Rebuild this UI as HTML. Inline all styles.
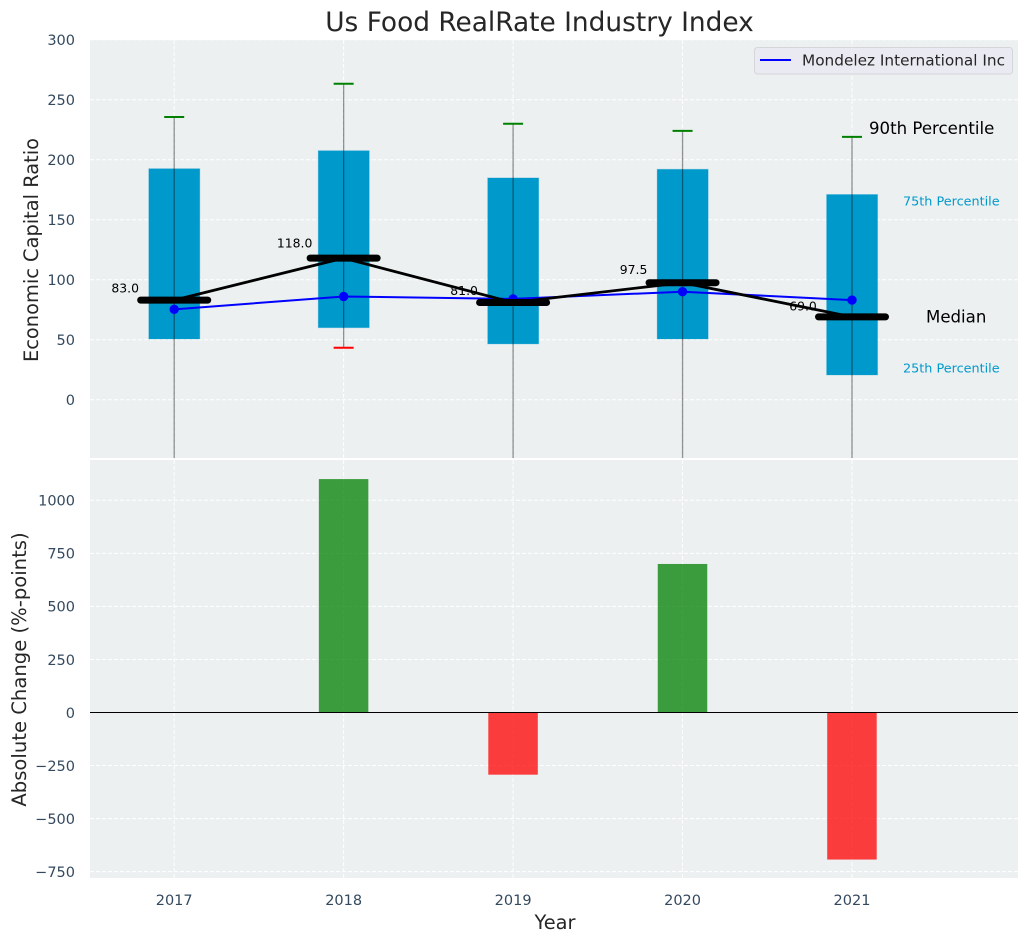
<!DOCTYPE html>
<html lang="en">
<head>
<meta charset="utf-8">
<title>Us Food RealRate Industry Index</title>
<style>
html,body{margin:0;padding:0;background:#fff;width:1029px;height:942px;overflow:hidden}
svg{display:block;font-family:"DejaVu Sans","Liberation Sans",sans-serif}
</style>
</head>
<body>
<svg id="chart" xmlns="http://www.w3.org/2000/svg" width="1029" height="942" viewBox="0 0 1029 942">
<defs>
<clipPath id="top-clip"><rect x="90" y="40" width="928" height="418"/></clipPath>
<clipPath id="bottom-clip"><rect x="90" y="460" width="928" height="418"/></clipPath>
</defs>
</svg>
<script>
const years = [2017, 2018, 2019, 2020, 2021];
const q1Values = [50.6, 60, 46.5, 50.6, 20.6];
const q3Values = [192.5, 207.5, 184.8, 192, 171];
const p90Values = [235.6, 263.3, 230, 224, 219];
const p10Values = [-60, 43.3, -60, -60, -60];
const medianValues = [83, 118, 81, 97.5, 69];
const companyValues = [75.3, 86, 84, 90, 83];
const changeValues = [0, 1100, -293, 700, -693];
const topTicks = [0, 50, 100, 150, 200, 250, 300];
const bottomTicks = [-750, -500, -250, 0, 250, 500, 750, 1000];

const NS = 'http://www.w3.org/2000/svg';
const svg = document.getElementById('chart');
const xPos = v => 174.2 + (v - 2017) * 169.45;
const yTop = v => 399.7 - v * 1.2;
const yBottom = v => 712.5 - v * 0.2122;
const fmt = v => String(v).replace('-', '\u2212');

function make(tag, attrs, parent, text) {
  const el = document.createElementNS(NS, tag);
  for (const k in attrs) el.setAttribute(k, attrs[k]);
  if (text !== undefined) el.textContent = text;
  (parent || svg).appendChild(el);
  return el;
}

let el;
el = make('rect', {x: 90, y: 40, width: 928, height: 418, fill: '#ecf0f1'});


el = make('rect', {x: 90, y: 460, width: 928, height: 418, fill: '#ecf0f1'});



const gridTop = make('g', {stroke: '#fff', 'stroke-width': 1, 'stroke-dasharray': '4 2', 'clip-path': 'url(#top-clip)'});


const gridBottom = make('g', {stroke: '#fff', 'stroke-width': 1, 'stroke-dasharray': '4 2', 'clip-path': 'url(#bottom-clip)'});



topTicks.forEach(t => {
  el = make('line', {x1: 90, x2: 1018, y1: yTop(t), y2: yTop(t)}, gridTop);
  
  
  el = make('text', {x: 75, y: yTop(t) + 5.3, 'text-anchor': 'end', 'font-size': 14.5, fill: '#34495e'}, svg, fmt(t));
  
  
});
bottomTicks.forEach(t => {
  el = make('line', {x1: 90, x2: 1018, y1: yBottom(t), y2: yBottom(t)}, gridBottom);
  
  
  el = make('text', {x: 75, y: yBottom(t) + 5.3, 'text-anchor': 'end', 'font-size': 14.5, fill: '#34495e'}, svg, fmt(t));
  
  
});
years.forEach(y => {
  el = make('line', {x1: xPos(y), x2: xPos(y), y1: 40, y2: 458}, gridTop);
  
  
  el = make('line', {x1: xPos(y), x2: xPos(y), y1: 460, y2: 878}, gridBottom);
  
  
  el = make('text', {x: xPos(y), y: 905, 'text-anchor': 'middle', 'font-size': 14.5, fill: '#34495e'}, svg, y);
  
  
});

const topG = make('g', {'clip-path': 'url(#top-clip)'});



years.forEach((y, i) => {
  const cx = xPos(y);
  el = make('rect', {x: cx - 25.4, y: yTop(q3Values[i]), width: 51, height: yTop(q1Values[i]) - yTop(q3Values[i]), fill: '#0099cc', stroke: '#0099cc', 'stroke-opacity': 0.25, 'stroke-width': 1}, topG);
  
  
});

el = make('polyline', {points: years.map((y, i) => xPos(y) + ',' + yTop(companyValues[i])).join(' '), fill: 'none', stroke: '#0000ff', 'stroke-width': 2}, topG);



years.forEach((y, i) => {
  const cx = xPos(y);
  el = make('line', {x1: cx, x2: cx, y1: yTop(p90Values[i]), y2: yTop(p10Values[i]), stroke: '#000', 'stroke-opacity': 0.42, 'stroke-width': 1.3}, topG);
  
  
  el = make('line', {x1: cx - 10, x2: cx + 10, y1: yTop(p90Values[i]), y2: yTop(p90Values[i]), stroke: '#008000', 'stroke-width': 2}, topG);
  
  
  el = make('line', {x1: cx - 10, x2: cx + 10, y1: yTop(p10Values[i]), y2: yTop(p10Values[i]), stroke: '#ff0000', 'stroke-width': 2}, topG);
  
  
  el = make('circle', {cx: cx, cy: yTop(companyValues[i]), r: 4.7, fill: '#0000ff'}, topG);
  
  
  el = make('text', {x: cx - 49, y: yTop(medianValues[i]) - 0.084 * medianValues[i] - 0.5, 'text-anchor': 'middle', 'font-size': 12.4, fill: '#000'}, topG, medianValues[i].toFixed(1));
  
  
});

el = make('polyline', {points: years.map((y, i) => xPos(y) + ',' + yTop(medianValues[i])).join(' '), fill: 'none', stroke: '#000', 'stroke-width': 2.8}, topG);



years.forEach((y, i) => {
  const cx = xPos(y);
  el = make('line', {x1: cx - 33.5, x2: cx + 33.5, y1: yTop(medianValues[i]), y2: yTop(medianValues[i]), stroke: '#000', 'stroke-width': 7, 'stroke-linecap': 'round'}, topG);
  
  
});

const last = years.length - 1;
el = make('text', {x: 869, y: yTop(p90Values[last]) - 3, 'font-size': 16.6, fill: '#000'}, svg, '90th Percentile');


el = make('text', {x: 903, y: yTop(q3Values[last]) + 11, 'font-size': 12.8, fill: '#0099cc'}, svg, '75th Percentile');


el = make('text', {x: 926, y: yTop(medianValues[last]) + 5.5, 'font-size': 16.6, fill: '#000'}, svg, 'Median');


el = make('text', {x: 903, y: yTop(q1Values[last]) - 2.5, 'font-size': 12.8, fill: '#0099cc'}, svg, '25th Percentile');



const bottomG = make('g', {'clip-path': 'url(#bottom-clip)'});


years.forEach((y, i) => {
  const v = changeValues[i];
  const fill = v >= 0 ? '#008000' : '#ff0000';
  el = make('rect', {x: xPos(y) - 24.8, y: Math.min(yBottom(v), yBottom(0)), width: 49.5, height: Math.abs(yBottom(v) - yBottom(0)), fill: fill, 'fill-opacity': 0.75}, bottomG);
  
  
});
el = make('line', {x1: 90, x2: 1018, y1: yBottom(0), y2: yBottom(0), stroke: '#000', 'stroke-width': 1.1}, bottomG);



const legend = make('g', {});


el = make('rect', {x: 754.5, y: 47.5, width: 258, height: 26.5, rx: 3, fill: '#eaeaf2', 'fill-opacity': 0.85, stroke: '#d5d5da', 'stroke-width': 1}, legend);


el = make('line', {x1: 760, x2: 791, y1: 60, y2: 60, stroke: '#0000ff', 'stroke-width': 2}, legend);


el = make('text', {x: 802, y: 65.5, 'font-size': 15.3, fill: '#262626'}, legend, 'Mondelez International Inc');



el = make('text', {x: 539.5, y: 31, 'text-anchor': 'middle', 'font-size': 26.4, fill: '#262626'}, svg, 'Us Food RealRate Industry Index');


el = make('text', {x: 555, y: 929, 'text-anchor': 'middle', 'font-size': 19.4, fill: '#262626'}, svg, 'Year');


el = make('text', {transform: 'translate(38 250) rotate(-90)', 'text-anchor': 'middle', 'font-size': 19.4, fill: '#262626'}, svg, 'Economic Capital Ratio');


el = make('text', {transform: 'translate(26 669.5) rotate(-90)', 'text-anchor': 'middle', 'font-size': 19.6, fill: '#262626'}, svg, 'Absolute Change (%-points)');


</script>
</body>
</html>
